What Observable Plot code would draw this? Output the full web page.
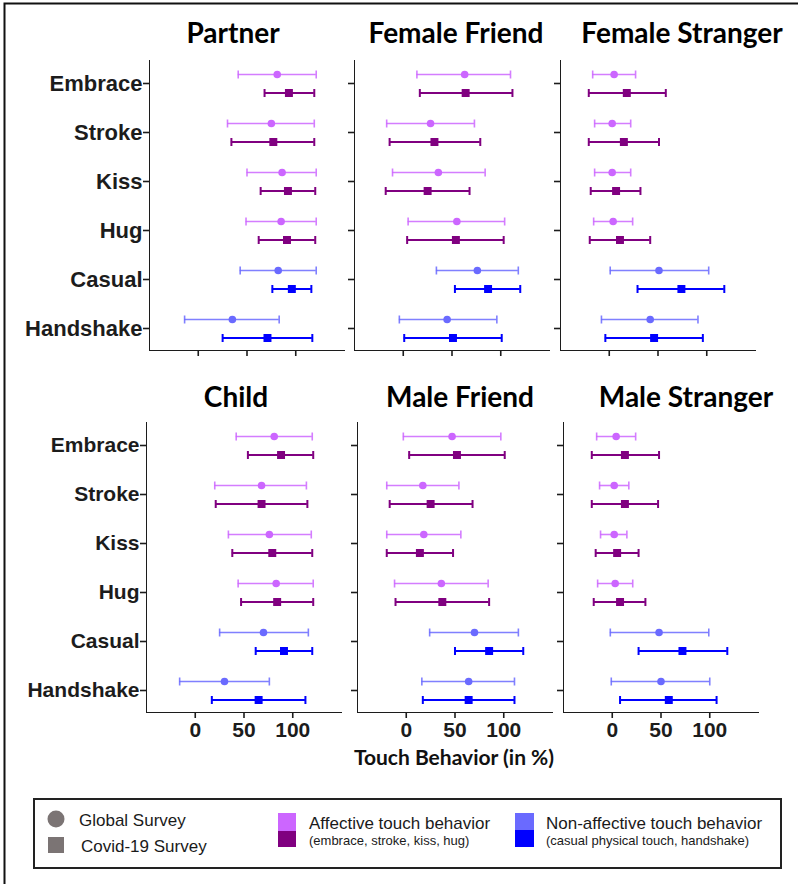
<!DOCTYPE html>
<html><head><meta charset="utf-8">
<script src="https://cdn.jsdelivr.net/npm/d3@7"></script>
<script src="https://cdn.jsdelivr.net/npm/@observablehq/plot@0.6"></script>
<style>
body{margin:0;background:#fff;}
#chart{position:relative;width:798px;height:884px;overflow:hidden;background:#fff;}
#chart svg{position:absolute;}
#chart svg g[aria-label*="axis"]{stroke-width:1.6px;}
</style></head><body><div id="chart"></div>
<script>
// ---- data ----
const behaviors = ["Embrace", "Stroke", "Kiss", "Hug", "Casual", "Handshake"];
const affectiveBehaviors = ["Embrace", "Stroke", "Kiss", "Hug"];
const panelNames = ["Partner", "Female Friend", "Female Stranger", "Child", "Male Friend", "Male Stranger"];
const xTicks = [0, 50, 100];
const xDomain = [-50, 150];
// each entry: [mean, lower, upper] in %, order follows behaviors
const partnerGlobal = [[81,41,121],[75,30,119],[86,50,121],[85,49,121],[82,43,121],[35,-14,83]];
const partnerCovid  = [[93,68,119],[77,34,119],[92,64,120],[91,62,120],[96,76,116],[71,25,117]];
const femaleFriendGlobal = [[63,14,110],[28,-17,73],[36,-11,84],[55,5,104],[76,34,118],[45,-4,96]];
const femaleFriendCovid  = [[64,17,112],[32,-14,79],[25,-18,68],[54,4,103],[87,53,120],[51,1,101]];
const femaleStrangerGlobal = [[5,-17,27],[3,-15,22],[3,-15,22],[4,-16,24],[51,1,102],[42,-8,91]];
const femaleStrangerCovid  = [[18,-21,58],[15,-21,51],[7,-19,32],[11,-20,42],[74,29,118],[46,-4,96]];
const childGlobal = [[81,42,120],[68,20,114],[76,34,119],[83,44,121],[70,25,116],[30,-16,76]];
const childCovid  = [[88,54,121],[68,21,115],[79,38,120],[84,47,121],[91,62,120],[65,17,113]];
const maleFriendGlobal = [[47,-3,97],[17,-20,54],[18,-20,56],[36,-12,84],[70,24,115],[64,16,111]];
const maleFriendCovid  = [[52,3,101],[25,-17,68],[14,-20,48],[37,-11,85],[85,50,120],[64,17,111]];
const maleStrangerGlobal = [[4,-16,24],[2,-13,17],[2,-12,15],[3,-15,21],[48,-2,99],[50,-1,100]];
const maleStrangerCovid  = [[13,-21,48],[13,-21,47],[5,-17,27],[8,-19,34],[72,27,118],[58,8,107]];

const panelGlobal = [partnerGlobal, femaleFriendGlobal, femaleStrangerGlobal, childGlobal, maleFriendGlobal, maleStrangerGlobal];
const panelCovid = [partnerCovid, femaleFriendCovid, femaleStrangerCovid, childCovid, maleFriendCovid, maleStrangerCovid];

const colors = {
  affGlobal: "#cc66ff", affCovid: "#800080",
  nonGlobal: "#6a6aff", nonCovid: "#0000ff"
};

// ---- layout ----
const frameW = 195, frameH = 290;
const layout = [
  {left: 149, top: 60, row: 0, col: 0, tx: 233, ty: 43},
  {left: 354, top: 60, row: 0, col: 1, tx: 456, ty: 43},
  {left: 560, top: 60, row: 0, col: 2, tx: 682, ty: 43},
  {left: 146, top: 422, row: 1, col: 0, tx: 236, ty: 407},
  {left: 357, top: 422, row: 1, col: 1, tx: 460, ty: 407},
  {left: 563, top: 422, row: 1, col: 2, tx: 686, ty: 407}
];

const chart = document.getElementById("chart");

// background overlay: outer frame, titles, axis label, legend
const bg = d3.create("svg").attr("width", 798).attr("height", 884).style("left", "0px").style("top", "0px");
bg.append("path").attr("d", "M4.5,884V3.5H798").attr("fill", "none").attr("stroke", "#111").attr("stroke-width", 2);
layout.forEach((p, i) => {
  bg.append("text").attr("x", p.tx).attr("y", p.ty).attr("text-anchor", "middle")
    .attr("font-family", "Lato, sans-serif").attr("font-weight", 700).attr("font-size", 28)
    .attr("fill", "#000").text(panelNames[i]);
});
bg.append("text").attr("x", 454).attr("y", 765).attr("text-anchor", "middle")
  .attr("font-family", "Lato, sans-serif").attr("font-weight", 700).attr("font-size", 21)
  .attr("fill", "#111").text("Touch Behavior (in %)");

// legend
const lg = bg.append("g").attr("font-family", "'Liberation Sans', Arial, sans-serif").attr("fill", "#1a1a1a");
lg.append("rect").attr("x", 34).attr("y", 799).attr("width", 747).attr("height", 69)
  .attr("fill", "none").attr("stroke", "#222").attr("stroke-width", 2);
lg.append("circle").attr("cx", 56).attr("cy", 819).attr("r", 8.5).attr("fill", "#7b7474");
lg.append("rect").attr("x", 48).attr("y", 837).attr("width", 16).attr("height", 16).attr("fill", "#7b7474");
lg.append("text").attr("x", 79).attr("y", 826).attr("font-size", 17).text("Global Survey");
lg.append("text").attr("x", 81).attr("y", 852).attr("font-size", 17).text("Covid-19 Survey");
lg.append("rect").attr("x", 278).attr("y", 813).attr("width", 18).attr("height", 18).attr("fill", colors.affGlobal);
lg.append("rect").attr("x", 278).attr("y", 831).attr("width", 18).attr("height", 16).attr("fill", colors.affCovid);
lg.append("text").attr("x", 309).attr("y", 829).attr("font-size", 17).text("Affective touch behavior");
lg.append("text").attr("x", 309).attr("y", 845).attr("font-size", 13).text("(embrace, stroke, kiss, hug)");
lg.append("rect").attr("x", 515).attr("y", 813).attr("width", 19).attr("height", 17).attr("fill", colors.nonGlobal);
lg.append("rect").attr("x", 515).attr("y", 830).attr("width", 19).attr("height", 17).attr("fill", colors.nonCovid);
lg.append("text").attr("x", 546).attr("y", 829).attr("font-size", 17).text("Non-affective touch behavior");
lg.append("text").attr("x", 546).attr("y", 845).attr("font-size", 13).text("(casual physical touch, handshake)");
chart.appendChild(bg.node());

// vertical cap symbol for error bars
const capSymbol = {
  draw(context, size) {
    const h = Math.sqrt(size / Math.PI);
    context.moveTo(0, -h);
    context.lineTo(0, h);
  }
};

function rowsFor(values, survey) {
  return behaviors.map((b, j) => {
    const aff = affectiveBehaviors.includes(b);
    return {
      behavior: b, survey,
      mean: values[j][0], lo: values[j][1], hi: values[j][2],
      color: colors[(aff ? "aff" : "non") + survey]
    };
  });
}

layout.forEach((p, i) => {
  const g = rowsFor(panelGlobal[i], "Global");
  const c = rowsFor(panelCovid[i], "Covid");
  const isLeft = p.col === 0;
  const isBottom = p.row === 1;
  const mL = isLeft ? p.left : 12;
  const mT = 4, mR = 6, mB = isBottom ? 34 : 12;
  const dyG = -9, dyC = 9.5;
  const plot = Plot.plot({
    width: mL + frameW + mR,
    height: mT + frameH + mB,
    marginLeft: mL, marginRight: mR, marginTop: mT, marginBottom: mB,
    style: {background: "transparent", color: "#1c1c1c", fontFamily: "'Liberation Sans', Arial, sans-serif",
            fontWeight: "bold", fontSize: isBottom ? "21px" : "22px", overflow: "visible", maxWidth: "none"},
    color: {type: "identity"},
    x: {domain: xDomain, ticks: xTicks, tickSize: 6, tickPadding: 4, line: true, label: null,
        tickFormat: isBottom ? (d => String(d)) : (() => "")},
    y: {type: "point", domain: behaviors, padding: 0.42, tickSize: 6, tickPadding: 1, line: true, label: null,
        tickFormat: isLeft ? (d => d) : (() => "")},
    marks: [
      Plot.ruleY(g, {y: "behavior", x1: "lo", x2: "hi", stroke: "color", strokeWidth: 1.6, dy: dyG, strokeOpacity: 0.85}),
      Plot.dot(g, {x: "lo", y: "behavior", symbol: capSymbol, r: 4, stroke: "color", strokeWidth: 1.6, fill: "none", dy: dyG, strokeOpacity: 0.85}),
      Plot.dot(g, {x: "hi", y: "behavior", symbol: capSymbol, r: 4, stroke: "color", strokeWidth: 1.6, fill: "none", dy: dyG, strokeOpacity: 0.85}),
      Plot.dot(g, {x: "mean", y: "behavior", symbol: "circle", r: 3.8, fill: "color", stroke: "none", dy: dyG}),
      Plot.ruleY(c, {y: "behavior", x1: "lo", x2: "hi", stroke: "color", strokeWidth: 2, dy: dyC}),
      Plot.dot(c, {x: "lo", y: "behavior", symbol: capSymbol, r: 4, stroke: "color", strokeWidth: 2, fill: "none", dy: dyC}),
      Plot.dot(c, {x: "hi", y: "behavior", symbol: capSymbol, r: 4, stroke: "color", strokeWidth: 2, fill: "none", dy: dyC}),
      Plot.dot(c, {x: "mean", y: "behavior", symbol: "square", r: 4.5, fill: "color", stroke: "none", dy: dyC})
    ]
  });
  plot.style.left = (p.left - mL) + "px";
  plot.style.top = (p.top - mT) + "px";
  chart.appendChild(plot);
});
</script></body></html>
